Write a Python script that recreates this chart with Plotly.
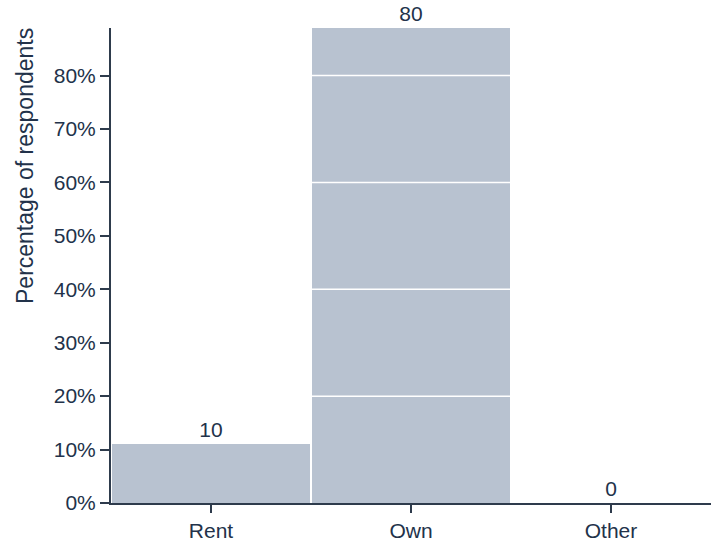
import plotly.graph_objects as go

categories = ["Rent", "Own", "Other"]
counts = [10, 80, 0]
y_ticks = [0, 10, 20, 30, 40, 50, 60, 70, 80]
white_lines = [20, 40, 60, 80]

total = sum(counts)
pct = [c / total * 100 for c in counts]

bar_color = "#b8c2d0"
axis_color = "#2e3b4c"
text_color = "#22324a"
font_family = "Liberation Sans, Arial, sans-serif"

fig = go.Figure()
fig.add_trace(go.Bar(
    x=categories,
    y=pct,
    text=[str(c) for c in counts],
    textposition="outside",
    textfont=dict(size=21, color=text_color, family=font_family),
    marker=dict(color=bar_color, line=dict(width=0)),
    cliponaxis=False,
    constraintext="none",
    width=0.99,
))

shapes = []
for v in white_lines:
    shapes.append(dict(type="line", xref="paper", yref="y", x0=0, x1=1, y0=v, y1=v,
                       line=dict(color="white", width=1.5), layer="above"))

fig.update_layout(
    width=712, height=548,
    margin=dict(l=111, r=1, t=28, b=45),
    paper_bgcolor="white", plot_bgcolor="white",
    showlegend=False,
    font=dict(family=font_family, color=text_color, size=20),
    shapes=shapes,
    bargap=0.0,
    annotations=[dict(
        text="Percentage of respondents", textangle=-90,
        xref="paper", yref="paper", x=0, y=1, xanchor="center", yanchor="top",
        xshift=-86, yshift=2, showarrow=False,
        font=dict(size=23, color=text_color, family=font_family),
    )],
    xaxis=dict(
        showgrid=False, zeroline=False,
        showline=True, linecolor=axis_color, linewidth=2,
        ticks="outside", ticklen=8, tickcolor=axis_color, tickwidth=2,
        tickfont=dict(size=21, color=text_color),
        range=[-0.5, 2.5],
    ),
    yaxis=dict(
        range=[0, max(pct)],
        tickvals=y_ticks,
        ticktext=[f"{t}%" for t in y_ticks],
        showgrid=False, zeroline=False,
        showline=True, linecolor=axis_color, linewidth=2,
        ticks="outside", ticklen=9, tickcolor=axis_color, tickwidth=2,
        tickfont=dict(size=21, color=text_color),
    ),
)

fig.write_html("out.html")
